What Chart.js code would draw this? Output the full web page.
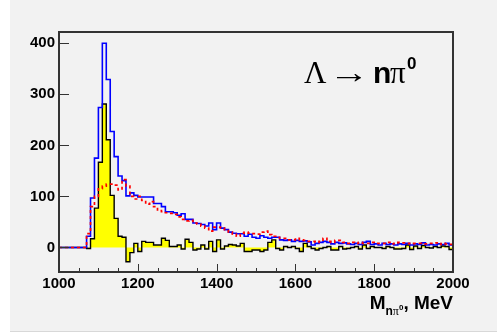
<!DOCTYPE html>
<html>
<head>
<meta charset="utf-8">
<script src="https://cdn.jsdelivr.net/npm/chart.js@4.4.1/dist/chart.umd.min.js"></script>
<style>
  html, body { margin: 0; padding: 0; background: #ffffff; }
  #pad {
    position: absolute; left: 10px; top: 0; width: 487px; height: 331px;
    background: #f2f2f2; border-bottom: 1px solid #d8d8d8;
  }
  #wrap { position: absolute; left: 0; top: 0; width: 497px; height: 334px; }
</style>
</head>
<body>
<div id="pad"></div>
<div id="wrap"><canvas id="hist" width="497" height="334"></canvas></div>
<script>
// Histogram binning: 100 bins of 10 MeV from 1000 to 2000
const BIN_START = 1000
const BIN_WIDTH = 10

// total n pi0 mass spectrum (blue)
const totalCounts = [
  0, 0, 0, 0, 0, 0, 0,
  22, 97, 175, 274, 400, 329, 227, 178, 140, 131, 101, 107, 102,
  99, 99, 99, 99, 86, 86, 80, 70, 70, 68,
  63, 66, 55, 55, 48, 47, 45, 42, 48, 35,
  48, 38, 35, 30, 28, 27, 27, 22, 26, 20,
  18, 23, 20, 18, 20, 20, 15, 14, 15, 12,
  14, 12, 13, 11, 5, 8, 10, 12, 10, 7,
  10, 8, 9, 7, 6, 8, 6, 10, 12, 6,
  7, 5, 8, 6, 7, 5, 7, 6, 8, 5,
  7, 6, 9, 5, 6, 5, 7, 6, 8, 5
]

// background estimate (red dotted)
const backgroundCounts = [
  0, 0, 0, 0, 0, 0, 0,
  27, 80, 100, 115, 120, 124, 124, 122, 113, 133, 120, 100, 95,
  100, 92, 85, 90, 80, 72, 70, 68, 67, 65,
  60, 55, 52, 53, 48, 46, 42, 38, 32, 40,
  40, 38, 33, 30, 26, 22, 28, 30, 28, 27,
  26, 30, 32, 25, 22, 20, 18, 18, 15, 15,
  18, 15, 14, 12, 12, 10, 12, 18, 12, 10,
  14, 14, 10, 8, 10, 8, 10, 8, 8, 10,
  8, 8, 8, 10, 7, 8, 10, 9, 8, 7,
  8, 8, 7, 7, 8, 9, 6, 8, 7, 6
]

// background-subtracted signal (black with yellow fill)
const signalCounts = [
  0, 0, 0, 0, 0, 0, 0,
  -2, 17, 77, 167, 281, 211, 102, 57, 22, 20, -28, -10, 8,
  -8, 12, 10, 10, 5, 5, 18, 14, 2, 2,
  5, -3, 16, 10, -5, -3, 5, -3, 12, -8,
  15, -3, 3, 6, 5, 3, 8, -8, -8, -5,
  -5, -8, -5, 10, 15, -2, -5, 2, 0, 2,
  -2, -8, 8, 2, -2, -5, -2, 0, 2, -5,
  -5, 2, -3, -2, 0, 2, -3, 5, -2, 2,
  0, 0, -2, 2, 0, -3, -3, -2, 5, -4,
  3, -2, 4, 0, -1, 2, 0, 3, 2, -4
]

const xTicks = [1000, 1200, 1400, 1600, 1800, 2000]
const xMinorStep = 50
const yTicks = [0, 100, 200, 300, 400]
const X_MIN = 1000, X_MAX = 2000
const Y_MIN = -48, Y_MAX = 422

// step points at bin low edges, plus a closing point at the upper edge
function toSteps(counts) {
  const pts = counts.map((v, i) => ({ x: BIN_START + i * BIN_WIDTH, y: v }))
  pts.push({ x: BIN_START + counts.length * BIN_WIDTH, y: counts[counts.length - 1] })
  return pts
}

const FRAME = '#333333'

// ROOT-like frame with inward ticks, plus the decay label and axis title
const rootFrame = {
  id: 'rootFrame',
  afterDatasetsDraw(chart) {
    const { ctx, chartArea: a, scales: { x, y } } = chart
    ctx.save()
    ctx.strokeStyle = FRAME
    ctx.lineWidth = 1
    // x minor/major ticks
    for (let v = X_MIN; v <= X_MAX; v += xMinorStep) {
      const px = Math.round(x.getPixelForValue(v)) + 0.5
      const len = xTicks.includes(v) ? 8 : 4
      ctx.beginPath()
      ctx.moveTo(px, a.bottom)
      ctx.lineTo(px, a.bottom - len)
      ctx.stroke()
    }
    // y major ticks
    yTicks.forEach(v => {
      const py = Math.round(y.getPixelForValue(v)) + 0.5
      ctx.beginPath()
      ctx.moveTo(a.left, py)
      ctx.lineTo(a.left + 10, py)
      ctx.stroke()
    })
    ctx.lineWidth = 2
    ctx.strokeRect(a.left, a.top, a.right - a.left, a.bottom - a.top)
    ctx.restore()
  },
  afterDraw(chart) {
    const { ctx, chartArea: a } = chart
    ctx.save()
    ctx.fillStyle = '#000'
    ctx.textBaseline = 'alphabetic'
    ctx.textAlign = 'left'

    // decay label
    ctx.font = '31px "Liberation Serif"'
    ctx.fillText('\u039B', 304, 83)
    // long thin arrow
    ctx.save()
    ctx.translate(329, 83)
    ctx.scale(1.31, 1)
    ctx.fillText('\u2192', 0, 0)
    ctx.restore()
    ctx.font = 'bold 30px "Liberation Sans"'
    ctx.fillText('n', 373, 83)
    ctx.font = '31px "Liberation Serif"'
    ctx.fillText('\u03C0', 390, 83)
    ctx.font = 'bold 17px "Liberation Sans"'
    ctx.fillText('0', 407, 69)

    // x axis title: M_{n pi0}, MeV
    const parts = [
      { t: 'M', f: 'bold 19px "Liberation Sans"', dy: 0 },
      { t: 'n', f: 'bold 12px "Liberation Sans"', dy: 6 },
      { t: '\u03C0', f: '12px "Liberation Serif"', dy: 6 },
      { t: '0', f: 'bold 8px "Liberation Sans"', dy: 1 },
      { t: ', MeV', f: 'bold 19px "Liberation Sans"', dy: 0 }
    ]
    let total = 0
    parts.forEach(p => { ctx.font = p.f; p.w = ctx.measureText(p.t).width; total += p.w })
    let cx = a.right - total
    const base = 309
    parts.forEach(p => {
      ctx.font = p.f
      ctx.fillText(p.t, cx, base + p.dy)
      cx += p.w
    })
    ctx.restore()
  }
}

const tickFont = { family: '"Liberation Sans"', size: 15, weight: 'bold' }

new Chart(document.getElementById('hist'), {
  type: 'line',
  data: {
    datasets: [
      {
        label: 'background',
        data: toSteps(backgroundCounts),
        stepped: 'before',
        borderColor: '#ff0000',
        borderWidth: 1.7,
        borderDash: [3, 3],
        pointRadius: 0,
        fill: false,
        order: 0
      },
      {
        label: 'total',
        data: toSteps(totalCounts),
        stepped: 'before',
        borderColor: '#0000ff',
        borderWidth: 1.6,
        pointRadius: 0,
        fill: false,
        order: 1
      },
      {
        label: 'signal',
        data: toSteps(signalCounts),
        stepped: 'before',
        borderColor: '#000000',
        borderWidth: 1.4,
        backgroundColor: '#ffff00',
        pointRadius: 0,
        fill: 'origin',
        order: 2
      }
    ]
  },
  options: {
    responsive: false,
    animation: false,
    layout: { padding: { left: 10, right: 44, top: 32, bottom: 0 } },
    plugins: {
      legend: { display: false },
      tooltip: { enabled: false }
    },
    scales: {
      x: {
        type: 'linear',
        min: X_MIN,
        max: X_MAX,
        grid: { display: false, drawTicks: false },
        border: { display: false },
        afterBuildTicks: s => { s.ticks = xTicks.map(v => ({ value: v })) },
        afterFit: s => { s.height = 62 },
        ticks: { font: tickFont, color: '#000', padding: 3, maxRotation: 0, callback: v => String(v) }
      },
      y: {
        type: 'linear',
        min: Y_MIN,
        max: Y_MAX,
        grid: { display: false, drawTicks: false },
        border: { display: false },
        afterBuildTicks: s => { s.ticks = yTicks.map(v => ({ value: v })) },
        afterFit: s => { s.width = 49 },
        ticks: { font: tickFont, color: '#000', padding: 4, callback: v => String(v) }
      }
    }
  },
  plugins: [rootFrame]
})
</script>
</body>
</html>
